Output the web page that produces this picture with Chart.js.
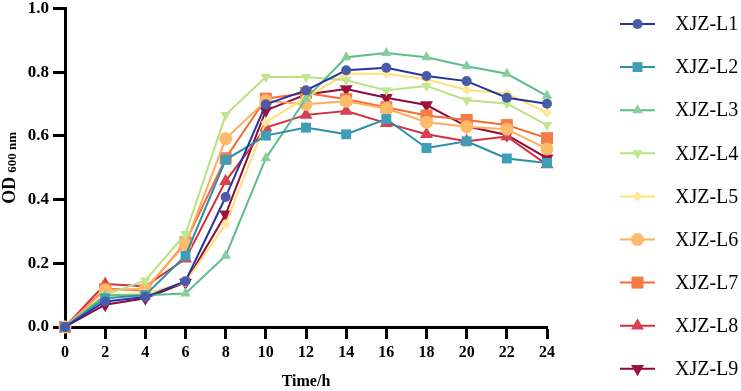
<!DOCTYPE html>
<html>
<head>
<meta charset="utf-8">
<script src="https://cdn.jsdelivr.net/npm/chart.js@4/dist/chart.umd.min.js"></script>
<style>
  html, body { margin: 0; padding: 0; background: #fff; }
  #wrap { width: 741px; height: 391px; position: relative; }
</style>
</head>
<body>
<div id="wrap"><canvas id="growthChart"></canvas></div>
<script>
const timeH = [0, 2, 4, 6, 8, 10, 12, 14, 16, 18, 20, 22, 24];
const strainNames = ['XJZ-L1', 'XJZ-L2', 'XJZ-L3', 'XJZ-L4', 'XJZ-L5', 'XJZ-L6', 'XJZ-L7', 'XJZ-L8', 'XJZ-L9'];
const xTicks = [0, 2, 4, 6, 8, 10, 12, 14, 16, 18, 20, 22, 24];
const yTicks = [0.0, 0.2, 0.4, 0.6, 0.8, 1.0];

const L1 = [0, 0.080, 0.094, 0.144, 0.408, 0.699, 0.743, 0.806, 0.814, 0.788, 0.772, 0.720, 0.701];
const L2 = [0, 0.090, 0.100, 0.224, 0.525, 0.601, 0.626, 0.605, 0.653, 0.562, 0.583, 0.529, 0.515];
const L3 = [0, 0.100, 0.100, 0.105, 0.224, 0.530, 0.717, 0.847, 0.860, 0.847, 0.819, 0.795, 0.726];
const L4 = [0, 0.100, 0.146, 0.292, 0.666, 0.785, 0.785, 0.775, 0.743, 0.757, 0.712, 0.702, 0.634];
const L5 = [0, 0.100, 0.105, 0.140, 0.323, 0.643, 0.720, 0.795, 0.795, 0.778, 0.744, 0.733, 0.673];
const L6 = [0, 0.115, 0.120, 0.260, 0.591, 0.710, 0.699, 0.709, 0.686, 0.643, 0.629, 0.621, 0.559];
const L7 = [0, 0.120, 0.115, 0.266, 0.530, 0.717, 0.735, 0.715, 0.690, 0.664, 0.650, 0.634, 0.593];
const L8 = [0, 0.135, 0.128, 0.214, 0.458, 0.626, 0.666, 0.678, 0.640, 0.605, 0.583, 0.598, 0.510];
const L9 = [0, 0.070, 0.090, 0.140, 0.354, 0.680, 0.730, 0.747, 0.720, 0.697, 0.630, 0.603, 0.530];

const seriesValues = [L1, L2, L3, L4, L5, L6, L7, L8, L9];

// line colour, marker colour, marker shape, rotation, radius
const styles = [
    ['#23359f', '#4a5baa', 'circle', 0, 5],
    ['#2a8fa8', '#3f9db6', 'rect', 0, 7],
    ['#5cbd88', '#85cf9f', 'triangle', 0, 6],
    ['#b9e184', '#c2e68f', 'triangle', 180, 6],
    ['#ffe074', '#ffe79a', 'rectRot', 0, 5],
    ['#fdae5c', '#fdbb69', 'circle', 0, 6.5],
    ['#f46a38', '#f57c45', 'rect', 0, 8.5],
    ['#d52f3f', '#d8414f', 'triangle', 0, 7.5],
    ['#8d0a3b', '#9b1240', 'triangle', 180, 7.5]
];

const serif = "'Liberation Serif', 'Times New Roman', serif";

const datasets = seriesValues.map((vals, i) => ({
    label: strainNames[i],
    data: timeH.map((t, j) => ({ x: t, y: vals[j] })),
    borderColor: styles[i][0],
    backgroundColor: styles[i][1],
    borderWidth: 2,
    pointStyle: styles[i][2],
    pointRotation: styles[i][3],
    pointRadius: styles[i][4],
    pointBackgroundColor: styles[i][1],
    pointBorderColor: styles[i][1],
    pointBorderWidth: 0,
    tension: 0,
    clip: false
}));

const sideLegend = {
    id: 'sideLegend',
    afterDraw(chart) {
        const ctx = chart.ctx;
        ctx.save();
        // y axis title with subscript
        ctx.translate(10, chart.chartArea.top + (chart.chartArea.bottom - chart.chartArea.top) / 2);
        ctx.rotate(-Math.PI / 2);
        ctx.fillStyle = '#000';
        ctx.textBaseline = 'alphabetic';
        ctx.font = 'bold 18px ' + serif;
        const mainW = ctx.measureText('OD').width;
        ctx.font = 'bold 13px ' + serif;
        const subW = ctx.measureText('600 nm').width;
        const total = mainW + 4 + subW;
        ctx.font = 'bold 18px ' + serif;
        ctx.textAlign = 'left';
        ctx.fillText('OD', -total / 2, 5);
        ctx.font = 'bold 13px ' + serif;
        ctx.fillText('600 nm', -total / 2 + mainW + 4, 6);
        ctx.restore();

        // legend with line + marker
        ctx.save();
        chart.data.datasets.forEach((ds, i) => {
            const y = 24 + i * 43.1;
            ctx.strokeStyle = ds.borderColor;
            ctx.lineWidth = 2;
            ctx.beginPath();
            ctx.moveTo(620, y);
            ctx.lineTo(655, y);
            ctx.stroke();
            ctx.fillStyle = ds.pointBackgroundColor;
            ctx.strokeStyle = ds.pointBackgroundColor;
            Chart.helpers.drawPoint(ctx, {
                pointStyle: ds.pointStyle,
                rotation: ds.pointRotation,
                radius: ds.pointRadius,
                borderWidth: 0
            }, 637.5, y);
            ctx.fillStyle = '#000';
            ctx.font = '20px ' + serif;
            ctx.textAlign = 'left';
            ctx.textBaseline = 'middle';
            ctx.fillText(ds.label, 675, y + 1);
        });
        ctx.restore();
    }
};

new Chart(document.getElementById('growthChart').getContext('2d'), {
    type: 'line',
    data: { datasets: datasets },
    options: {
        responsive: true,
        maintainAspectRatio: false,
        animation: false,
        layout: { padding: { top: 6, right: 194, left: 0, bottom: 0 } },
        plugins: {
            legend: { display: false },
            tooltip: { enabled: false }
        },
        scales: {
            x: {
                type: 'linear',
                min: 0,
                max: 24,
                afterBuildTicks: axis => { axis.ticks = xTicks.map(v => ({ value: v })); },
                ticks: {
                    color: '#000',
                    font: { family: serif, size: 16, weight: 'bold' },
                    padding: 4,
                    maxRotation: 0
                },
                grid: { drawOnChartArea: false, drawTicks: true, tickLength: 12, tickWidth: 3, tickColor: '#000' },
                border: { display: true, color: '#000', width: 3 },
                title: {
                    display: true,
                    text: 'Time/h',
                    color: '#000',
                    font: { family: serif, size: 16, weight: 'bold' },
                    padding: { top: 6, bottom: 0 }
                },
                afterFit: scale => {
                    scale.height = 64;
                    scale.paddingLeft = 0;
                    scale.paddingRight = 0;
                }
            },
            y: {
                min: 0,
                max: 1.0,
                afterBuildTicks: axis => { axis.ticks = yTicks.map(v => ({ value: v })); },
                ticks: {
                    color: '#000',
                    font: { family: serif, size: 17, weight: 'bold' },
                    padding: 4,
                    callback: v => v.toFixed(1)
                },
                grid: { drawOnChartArea: false, drawTicks: true, tickLength: 12, tickWidth: 3, tickColor: '#000' },
                border: { display: true, color: '#000', width: 3 },
                afterFit: scale => {
                    scale.width = 65;
                    scale.paddingTop = 0;
                    scale.paddingBottom = 0;
                }
            }
        }
    },
    plugins: [sideLegend]
});
</script>
</body>
</html>
